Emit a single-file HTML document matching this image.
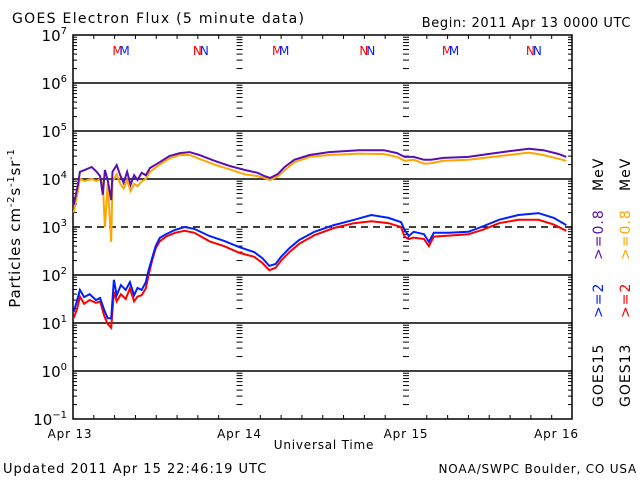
<!DOCTYPE html>
<html><head><meta charset="utf-8"><style>
html,body{margin:0;padding:0;background:#fff;}
svg{display:block;font-family:"DejaVu Sans","Liberation Sans",sans-serif;}
</style></head><body>
<svg id="chart" width="640" height="480" viewBox="0 0 640 480" xmlns="http://www.w3.org/2000/svg">
<rect width="640" height="480" fill="#fff"/>
<text x="12" y="23" font-size="14" letter-spacing="1.3">GOES Electron Flux (5 minute data)</text>
<text x="631" y="27" font-size="13" letter-spacing="0.6" text-anchor="end">Begin: 2011 Apr 13 0000 UTC</text>
<text transform="translate(20,228) rotate(-90)" font-size="15" letter-spacing="0.8" text-anchor="middle">Particles cm<tspan font-size="10" dy="-6">-2</tspan><tspan dy="6">s</tspan><tspan font-size="10" dy="-6">-1</tspan><tspan dy="6">sr</tspan><tspan font-size="10" dy="-6">-1</tspan></text>
<text x="324" y="449" font-size="12" letter-spacing="0.8" text-anchor="middle">Universal Time</text>
<text x="3" y="473" font-size="13" letter-spacing="1">Updated 2011 Apr 15 22:46:19 UTC</text>
<text x="637" y="473" font-size="12" letter-spacing="0.8" text-anchor="end">NOAA/SWPC Boulder, CO USA</text>
<g font-size="14" letter-spacing="1">
<text transform="translate(603,407) rotate(-90)">GOES15</text>
<text transform="translate(603,318) rotate(-90)" fill="#0020ff">&gt;=2</text>
<text transform="translate(603,260) rotate(-90)" fill="#5a10b0">&gt;=0.8</text>
<text transform="translate(603,191) rotate(-90)">MeV</text>
<text transform="translate(630,407) rotate(-90)">GOES13</text>
<text transform="translate(630,318) rotate(-90)" fill="#ff0000">&gt;=2</text>
<text transform="translate(630,260) rotate(-90)" fill="#ffa500">&gt;=0.8</text>
<text transform="translate(630,191) rotate(-90)">MeV</text>
</g>
<g id="axes"></g>
<g id="series"></g>
</svg>
<script>
const dayLabels = ["Apr 13","Apr 14","Apr 15","Apr 16"];
const decadeExps = [7,6,5,4,3,2,1,0,-1];
const markers = [["M",7.0],["N",18.5],["M",30.0],["N",42.5],["M",54.5],["N",66.5]];
const tHours = [0.1,0.7,1.0,1.7,2.7,3.4,3.9,4.3,4.6,5.0,5.5,5.7,6.3,6.8,7.3,7.8,8.3,8.8,9.3,9.9,10.5,11.1,12.5,13.9,15.4,16.8,18.2,20.4,22.6,24.7,26.6,27.6,28.4,29.5,30.5,31.9,34.1,36.9,41.2,44.8,46.7,47.8,49.1,50.6,51.6,53.4,57.0,59.9,62.8,65.7,67.8,70.0,71.1];
const logPurple = [3.46,3.88,4.15,4.19,4.25,4.15,4.06,3.67,4.19,3.98,3.56,4.15,4.29,4.08,3.92,4.15,3.88,4.08,3.98,4.13,4.08,4.23,4.35,4.48,4.54,4.56,4.5,4.38,4.27,4.19,4.13,4.06,4.02,4.1,4.25,4.4,4.5,4.56,4.6,4.6,4.54,4.46,4.46,4.4,4.4,4.44,4.46,4.52,4.58,4.63,4.6,4.52,4.46];
const logOrange = [3.3,3.75,4.0,3.96,4.0,3.96,4.0,3.9,3.0,3.9,2.69,3.95,4.1,3.9,3.8,3.98,3.75,3.9,3.85,3.95,4.0,4.15,4.3,4.43,4.5,4.5,4.42,4.3,4.2,4.1,4.06,4.02,3.98,4.05,4.18,4.35,4.46,4.5,4.53,4.52,4.46,4.38,4.4,4.32,4.33,4.38,4.4,4.45,4.5,4.55,4.5,4.42,4.38];
const tHours2 = [0.1,0.6,1.0,1.6,2.4,3.3,3.9,4.5,5.0,5.5,5.9,6.3,6.9,7.6,8.2,8.8,9.3,9.9,10.5,10.9,11.4,11.9,12.5,13.4,14.7,16.1,17.5,19.7,21.8,24.0,26.1,27.3,28.3,29.2,30.0,31.2,32.6,34.8,37.6,40.5,43.0,45.5,47.3,47.8,48.4,49.1,50.6,51.3,52.0,54.2,57.0,59.2,61.4,64.2,67.1,69.3,71.1];
const logBlue = [1.23,1.48,1.69,1.54,1.6,1.48,1.52,1.27,1.1,1.1,1.9,1.58,1.79,1.69,1.85,1.58,1.73,1.69,1.85,2.1,2.35,2.6,2.77,2.85,2.94,3.0,2.96,2.81,2.71,2.58,2.48,2.35,2.19,2.23,2.38,2.56,2.73,2.9,3.04,3.15,3.25,3.19,3.1,2.94,2.81,2.9,2.85,2.69,2.88,2.88,2.9,3.02,3.15,3.25,3.29,3.19,3.04];
const logRed = [1.1,1.3,1.55,1.4,1.48,1.42,1.45,1.15,0.98,0.9,1.65,1.45,1.6,1.5,1.72,1.45,1.55,1.58,1.72,2.0,2.3,2.55,2.7,2.8,2.88,2.92,2.88,2.7,2.6,2.46,2.38,2.25,2.1,2.15,2.3,2.48,2.65,2.83,2.98,3.08,3.12,3.08,3.0,2.8,2.75,2.78,2.75,2.6,2.8,2.82,2.85,2.95,3.08,3.15,3.15,3.05,2.92];

const NS="http://www.w3.org/2000/svg";
const X0=73, DAYW=166.5, XR=572, YT=35, DEC=48;
const xs = h => X0 + h/24*DAYW;
const ys = l => YT + (7-l)*DEC;
const YB = ys(-1);
function mk(tag, attrs, parent){const e=document.createElementNS(NS,tag);for(const k in attrs)e.setAttribute(k,attrs[k]);parent.appendChild(e);return e;}
const axes=document.getElementById('axes');
decadeExps.forEach(e=>{
  if(e===7||e===-1) return;
  const l=mk('line',{x1:X0,x2:XR,y1:ys(e),y2:ys(e),stroke:'#000','stroke-width':1.5},axes);
  
  
  if(e===3) l.setAttribute('stroke-dasharray','7,5');
});
const ticksG=mk('g',{stroke:'#000','stroke-width':1},axes);


for(let e=-1;e<7;e++){
  for(let m=2;m<=9;m++){
    const y=ys(e+Math.log10(m));
    mk('line',{x1:X0,x2:X0+4,y1:y,y2:y},ticksG);
    mk('line',{x1:XR-4,x2:XR,y1:y,y2:y},ticksG);
    [1,2].forEach(d=>{const xc=xs(24*d);mk('line',{x1:xc-3,x2:xc+3,y1:y,y2:y},ticksG);});
  }
}
for(let h=3;h<72;h+=3){
  const x=xs(h);
  if(h%24!==0){mk('line',{x1:x,x2:x,y1:YB,y2:YB-4},ticksG);mk('line',{x1:x,x2:x,y1:YT,y2:YT+4},ticksG);}
}
const fr=mk('rect',{x:X0,y:YT,width:XR-X0,height:YB-YT,fill:'none',stroke:'#000','stroke-width':1.5},axes);


decadeExps.forEach(e=>{
  const t=mk('text',{x:67,y:ys(e)+6,'font-size':15,'text-anchor':'end'},axes);
  
  
  t.textContent='10';
  const s=mk('tspan',{'font-size':10,dy:-7},t);s.textContent=String(e).replace('-','\u2212');
});
dayLabels.forEach((d,i)=>{
  let x=xs(24*i); if(i===3) x-=16; if(i===0) x-=3;
  const t=mk('text',{x:x,y:438,'font-size':12,'letter-spacing':0.8,'text-anchor':'middle'},axes);
  
  
  t.textContent=d;
});
markers.forEach(([c,h])=>{
  const g=mk('g',{},axes);
  
  
  const x=xs(h);
  const a=mk('text',{x:x-4,y:55,'font-size':12,fill:'#ff0000','text-anchor':'middle'},g);a.textContent=c;
  const b=mk('text',{x:x+3,y:55,'font-size':12,fill:'#0020ff','text-anchor':'middle'},g);b.textContent=c;
});
const sg=document.getElementById('series');
function line(ts,vals,color,name){
  const p=mk('polyline',{points:ts.map((t,i)=>xs(t).toFixed(1)+','+ys(vals[i]).toFixed(1)).join(' '),fill:'none',stroke:color,'stroke-width':2,'stroke-linejoin':'miter'},sg);
  
  
}
line(tHours,logOrange,'#ffa500','series-goes13-0.8mev');
line(tHours,logPurple,'#5a10b0','series-goes15-0.8mev');
line(tHours2,logRed,'#ff0000','series-goes13-2mev');
line(tHours2,logBlue,'#0020ff','series-goes15-2mev');
</script>
</body></html>
